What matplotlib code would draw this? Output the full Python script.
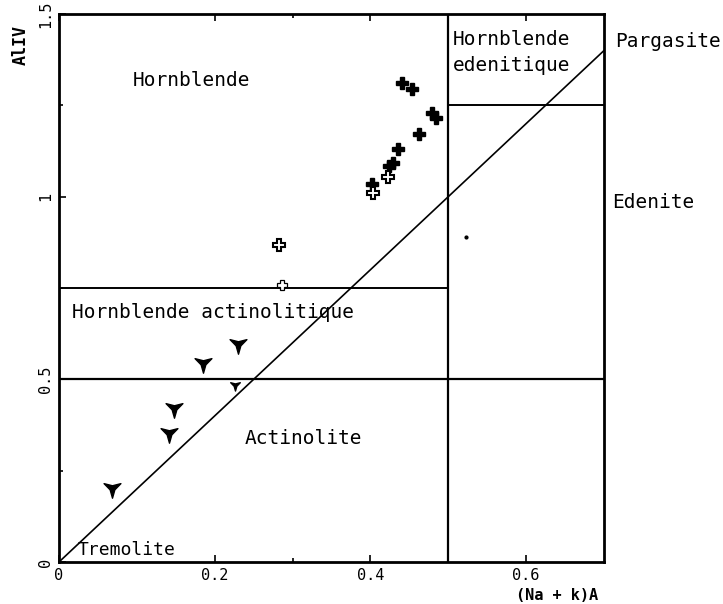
import matplotlib.pyplot as plt
import numpy as np
from matplotlib.path import Path

plt.rcParams['font.family'] = ['DejaVu Sans Mono']

# (Na + K)A vs AlIV for the analysed amphiboles
hbl_x = [0.441, 0.454, 0.479, 0.484, 0.462, 0.436, 0.429, 0.424, 0.402]
hbl_y = [1.310, 1.294, 1.228, 1.214, 1.172, 1.130, 1.091, 1.084, 1.035]
hbl_open_x = [0.423, 0.403, 0.283]
hbl_open_y = [1.055, 1.011, 0.868]
small_open_x = [0.286]
small_open_y = [0.758]
act_x = [0.230, 0.185, 0.148, 0.141, 0.068]
act_y = [0.597, 0.546, 0.421, 0.352, 0.203]
act_small_x = [0.226]
act_small_y = [0.485]
speck_x = [0.523]
speck_y = [0.89]

# field boundaries
na_k_split = 0.5
al_actinolite = 0.5
al_hbl_act = 0.75
al_edenitic = 1.25
diag_x = [0.0, 0.7]
diag_y = [0.0, 1.4]

# "Y" shaped marker: three-pointed star with one arm pointing down
star = Path.unit_regular_star(3, innerCircle=0.28)
y_marker = Path(star.vertices * np.array([1, -1]), star.codes)

fig = plt.figure(figsize=(7.23, 6.04), dpi=100)
ax = fig.add_axes([59 / 723, 42 / 604, 545 / 723, 548 / 604])

ax.plot(diag_x, diag_y, color='black', lw=1.2)
ax.axhline(al_actinolite, color='black', lw=1.6)
ax.hlines(al_hbl_act, 0, na_k_split, color='black', lw=1.4)
ax.vlines(na_k_split, 0, 1.5, color='black', lw=1.6)
ax.hlines(al_edenitic, na_k_split, 0.7, color='black', lw=1.4)

ax.plot(hbl_x, hbl_y, ls='none', marker='P', ms=9, color='black')
ax.plot(hbl_open_x, hbl_open_y, ls='none', marker='P', ms=9,
        mfc='white', mec='black', mew=1.5)
ax.plot(small_open_x, small_open_y, ls='none', marker='P', ms=7,
        mfc='white', mec='black', mew=0.9)
ax.plot(act_x, act_y, ls='none', marker=y_marker, ms=14, color='black')
ax.plot(act_small_x, act_small_y, ls='none', marker=y_marker, ms=8,
        color='black')
ax.plot(speck_x, speck_y, ls='none', marker='o', ms=2, color='black')

ax.set_xlim(0, 0.7)
ax.set_ylim(0, 1.5)
for s in ax.spines.values():
    s.set_linewidth(2)

ax.set_xticks([0, 0.2, 0.4, 0.6])
ax.set_xticklabels(['0', '0.2', '0.4', '0.6'])
ax.set_xticks([0.3], minor=True)
ax.set_yticks([0, 0.5, 1, 1.5])
ax.set_yticklabels(['0', '0.5', '1', '1.5'], rotation=90, va='center')
ax.set_yticks([0.25, 0.75, 1.25], minor=True)
ax.tick_params(which='both', direction='in', top=True, labelsize=11,
               width=1.2)
ax.tick_params(which='major', length=5, pad=4)
ax.tick_params(which='minor', length=3)

lab = dict(fontsize=14, color='black')
ax.text(0.095, 1.319, 'Hornblende', va='center', **lab)
ax.text(0.506, 1.429, 'Hornblende', va='center', **lab)
ax.text(0.506, 1.36, 'edenitique', va='center', **lab)
ax.text(0.714, 1.426, 'Pargasite', va='center', clip_on=False, **lab)
ax.text(0.711, 0.985, 'Edenite', va='center', clip_on=False, **lab)
ax.text(0.017, 0.682, 'Hornblende actinolitique', va='center', **lab)
ax.text(0.239, 0.339, 'Actinolite', va='center', **lab)
ax.text(0.024, 0.032, 'Tremolite', va='center', fontsize=13)

fig.text(21 / 723, 1 - 45 / 604, 'AlIV', rotation=90, fontsize=12,
         fontweight='bold', ha='center', va='center')
fig.text(557 / 723, 1 - 595 / 604, '(Na + k)A', fontsize=11,
         fontweight='bold', ha='center', va='center')

fig.savefig('out.png', dpi=100)
